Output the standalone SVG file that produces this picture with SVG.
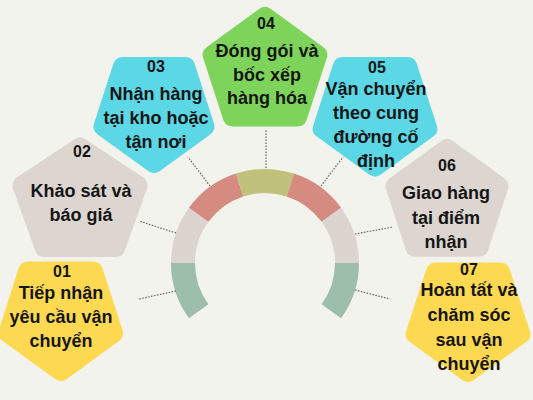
<svg xmlns="http://www.w3.org/2000/svg" width="533" height="400" viewBox="0 0 533 400">
<style>
.bg{fill:#f3f3ee}
.pent{stroke-width:20;stroke-linejoin:round}
.yellow{fill:#fdd952;stroke:#fdd952}
.beige{fill:#ddd6d0;stroke:#ddd6d0}
.cyan{fill:#5bd7e5;stroke:#5bd7e5}
.green{fill:#7ed45b;stroke:#7ed45b}
.sg{fill:#9dbea8}
.sb{fill:#dcd5cf}
.sr{fill:#d58b7f}
.so{fill:#bfc27b}
.conn line{stroke:#555;stroke-width:1.1;stroke-dasharray:1.5 1.5;fill:none}
text{font-family:"Liberation Sans",Arial,sans-serif;font-weight:bold;fill:#151515;text-anchor:middle}
.num{font-size:16px}
.lbl{font-size:18px}
</style>
<rect class="bg" x="0" y="0" width="533" height="400"/>
<g id="arc">
<path class="sg" d="M188.95,318.25 A94,94 0 0 1 171,263 L195,263 A70,70 0 0 0 208.37,304.15 Z"/>
<path class="sb" d="M171,263 A94,94 0 0 1 188.95,207.75 L208.37,221.85 A70,70 0 0 0 195,263 Z"/>
<path class="sr" d="M188.95,207.75 A94,94 0 0 1 235.95,173.6 L243.37,196.42 A70,70 0 0 0 208.37,221.85 Z"/>
<path class="so" d="M235.95,173.6 A94,94 0 0 1 294.05,173.6 L286.63,196.42 A70,70 0 0 0 243.37,196.42 Z"/>
<path class="sr" d="M294.05,173.6 A94,94 0 0 1 341.05,207.75 L321.63,221.85 A70,70 0 0 0 286.63,196.42 Z"/>
<path class="sb" d="M341.05,207.75 A94,94 0 0 1 359,263 L335,263 A70,70 0 0 0 321.63,221.85 Z"/>
<path class="sg" d="M359,263 A94,94 0 0 1 341.05,318.25 L321.63,304.15 A70,70 0 0 0 335,263 Z"/>
</g>
<g id="connectors" class="conn">
<line x1="176" y1="291" x2="139" y2="299"/>
<line x1="176" y1="233" x2="139" y2="221"/>
<line x1="210" y1="186" x2="188" y2="157"/>
<line x1="266" y1="168" x2="266" y2="130"/>
<line x1="321" y1="186" x2="343" y2="157"/>
<line x1="355" y1="234" x2="393" y2="227"/>
<line x1="355" y1="290" x2="390" y2="299"/>
</g>
<g id="node01">
<polygon class="pent yellow" points="28,271.5 93,271.5 113,333 61,371 8.5,333"/>
<text class="num" x="62" y="277">01</text>
<text class="lbl" x="61" y="299">Tiếp nhận</text>
<text class="lbl" x="61" y="323">yêu cầu vận</text>
<text class="lbl" x="61" y="347">chuyển</text>
</g>
<g id="node02">
<polygon class="pent beige" points="80,147.5 137.5,185.5 115.6,247 44.4,247 22.5,185.5"/>
<text class="num" x="82" y="157">02</text>
<text class="lbl" x="81" y="197">Khảo sát và</text>
<text class="lbl" x="81" y="221">báo giá</text>
</g>
<g id="node03">
<polygon class="pent cyan" points="122.8,67 185.2,67 204.4,126.4 154,163 103.6,126.4"/>
<text class="num" x="156" y="72">03</text>
<text class="lbl" x="156" y="100">Nhận hàng</text>
<text class="lbl" x="156" y="124">tại kho hoặc</text>
<text class="lbl" x="156" y="148">tận nơi</text>
</g>
<g id="node04">
<polygon class="pent green" points="265,17 317.3,55 297.3,116.5 232.7,116.5 212.7,55"/>
<text class="num" x="266" y="29">04</text>
<text class="lbl" x="267" y="57">Đóng gói và</text>
<text class="lbl" x="267" y="81">bốc xếp</text>
<text class="lbl" x="267" y="104">hàng hóa</text>
</g>
<g id="node06">
<polygon class="pent beige" points="447,149 498.4,186.3 478.8,246.7 415.2,246.7 395.6,186.3"/>
<text class="num" x="447" y="171">06</text>
<text class="lbl" x="446" y="199">Giao hàng</text>
<text class="lbl" x="446" y="224">tại điểm</text>
<text class="lbl" x="446" y="248">nhận</text>
</g>
<g id="node05">
<polygon class="pent cyan" points="342.7,67 407.3,67 427.3,128.5 375,166.5 322.7,128.5"/>
<text class="num" x="377" y="73">05</text>
<text class="lbl" x="376" y="95">Vận chuyển</text>
<text class="lbl" x="376" y="119">theo cung</text>
<text class="lbl" x="376" y="143">đường cố</text>
<text class="lbl" x="376" y="167">định</text>
</g>
<g id="node07">
<polygon class="pent yellow" points="435.7,272.5 500.3,272.5 520.3,334 468,372 415.7,334"/>
<text class="num" x="469" y="275">07</text>
<text class="lbl" x="469" y="296">Hoàn tất và</text>
<text class="lbl" x="469" y="321">chăm sóc</text>
<text class="lbl" x="469" y="346">sau vận</text>
<text class="lbl" x="469" y="370">chuyển</text>
</g>
</svg>
